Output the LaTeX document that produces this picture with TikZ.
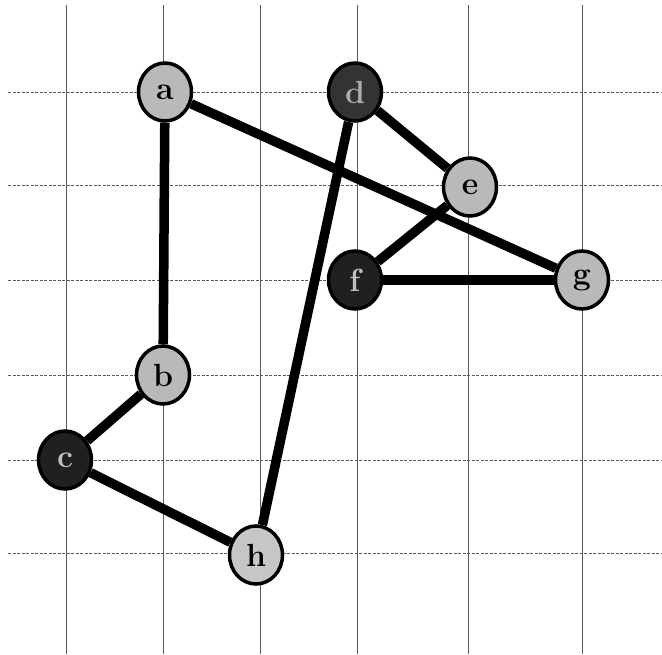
\documentclass[tikz,border=0pt]{standalone}
\usepackage{tikz}
\usetikzlibrary{calc}
\usepackage{xcolor}

\tikzset{
  gridline/.style = {gray!70!black, line width=.6pt},
  vtx/.style = {ellipse, draw=black, line width=3.5pt, minimum width=53pt,
                minimum height=58pt, inner sep=0pt,
                font=\fontsize{32}{34}\selectfont\bfseries},
  vtxlight/.style = {vtx, fill=gray!55},
  vtxdark/.style = {vtx, fill=gray!25!black, text=gray!50},
  edge/.style = {line width=9.5pt}
}
\usetikzlibrary{shapes.geometric}

\begin{document}
\begin{tikzpicture}[x=1pt, y=-1pt]
\useasboundingbox (0,0) rectangle (662,654);

% vertical grid lines
\foreach \x in {66,163,260,357,468,582}{
  \draw[gridline] (\x,5) -- (\x,654);
}

% horizontal grid lines
\foreach \y in {92,185,280,375,460,553}{
  \draw[gridline, dash pattern=on 3pt off 1.5pt] (8,\y) -- (662,\y);
}

% vertices
\node[vtxlight] (a) at (165,92) {a};
\node[vtxdark, fill=gray!40!black, text=gray!65] (d) at (355,92) {d};
\node[vtxlight] (e) at (470,187) {e};
\node[vtxdark] (f) at (355,280) {f};
\node[vtxlight] (g) at (582,280) {g};
\node[vtxlight] (b) at (163,375) {b};
\node[vtxdark] (c) at (65,460) {c};
\node[vtxlight, fill=gray!45] (h) at (256,555) {h};

% edges
\draw[edge] (a) -- (b);
\draw[edge] (a) -- (g);
\draw[edge] (d) -- (e);
\draw[edge] (d) -- (h);
\draw[edge] (e) -- (f);
\draw[edge] (f) -- (g);
\draw[edge] (b) -- (c);
\draw[edge] (c) -- (h);

\end{tikzpicture}
\end{document}
